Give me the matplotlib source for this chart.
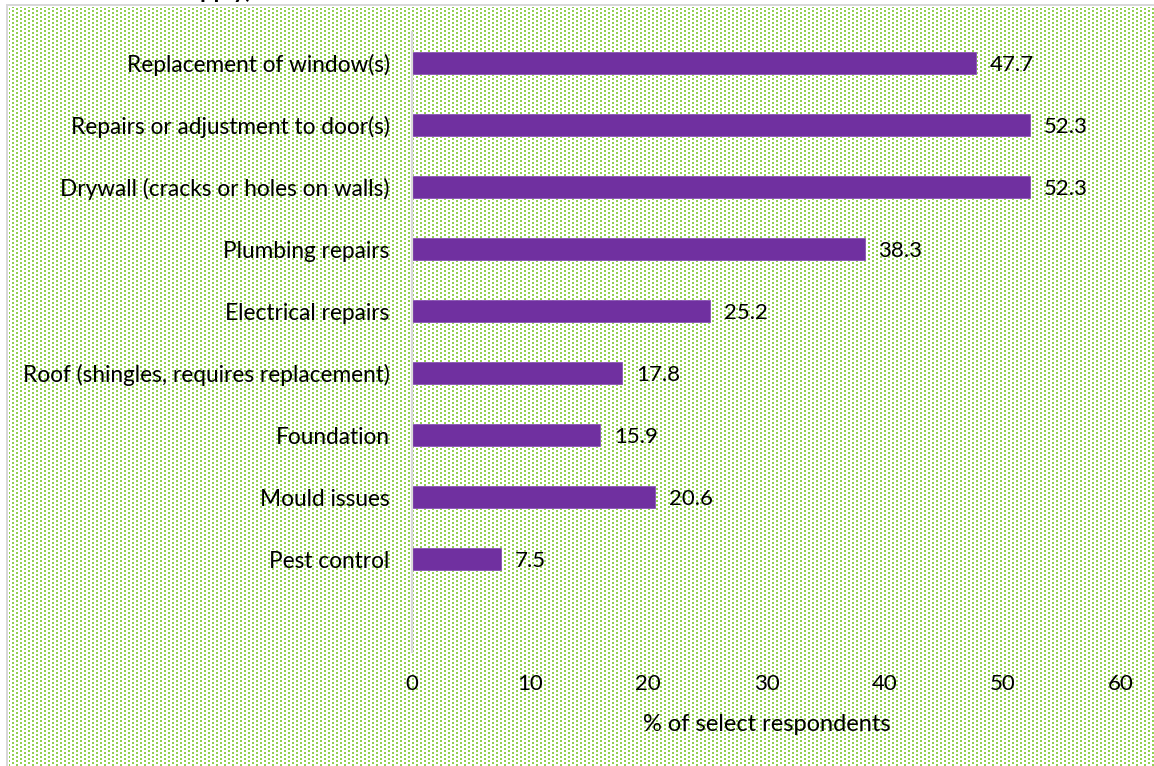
import matplotlib
import numpy as np
from matplotlib import pyplot as plt

matplotlib.use("Agg")

categories = [
    "Replacement of window(s)",
    "Repairs or adjustment to door(s)",
    "Drywall (cracks or holes on walls)",
    "Plumbing repairs",
    "Electrical repairs",
    "Roof (shingles, requires replacement)",
    "Foundation",
    "Mould issues",
    "Pest control",
]
values = [47.7, 52.3, 52.3, 38.3, 25.2, 17.8, 15.9, 20.6, 7.5]
x_ticks = [0, 10, 20, 30, 40, 50, 60]

W, H = 1154, 766
FONT = ["Lato", "DejaVu Sans"]
plt.rcParams["font.family"] = FONT


def _pattern(width: int, height: int) -> np.ndarray:
    # excel style dotted fill on white, light grey chart border top/left
    img = np.ones((height, width, 3))
    green = np.array([0x92, 0xD0, 0x50]) / 255.0
    yy, xx = np.mgrid[0:height, 0:width]
    dots = ((xx % 8 < 2) & (yy % 4 < 2)) | (((xx - 4) % 8 < 2) & ((yy - 2) % 4 < 2))
    dots &= (xx >= 9) & (yy >= 7)
    img[dots] = green
    grey = np.array([0.85, 0.85, 0.85])
    img[5:, 6:8] = grey
    img[4:6, 6:] = grey
    return img


fig = plt.figure(figsize=(W / 100, H / 100), dpi=100)
fig.figimage(_pattern(W, H), 0, 0, zorder=0, origin="upper")

left, right, top, bottom = 412, 1121, 32, 652
ax = fig.add_axes([left / W, 1 - bottom / H, (right - left) / W, (bottom - top) / H])
ax.set_zorder(2)
ax.patch.set_alpha(0)

pos = np.arange(len(categories))
bars = ax.barh(pos, values, height=0.37, color="#7030A0", edgecolor="#8a55b5", linewidth=0.6)
for bar, v in zip(bars, values):
    ax.annotate(f"{v:.1f}", (bar.get_width(), bar.get_y() + bar.get_height() / 2),
                xytext=(10, 0), textcoords="offset points", va="center_baseline", ha="left",
                fontsize=16, color="black")

ax.set_xlim(0, 60)
ax.set_xticks(x_ticks)
ax.set_ylim(len(categories) + 0.5, -0.5)
ax.set_yticks(pos)
ax.set_yticklabels(categories, va="center_baseline")
ax.tick_params(axis="y", length=0, pad=16, labelsize=16.3)
ax.tick_params(axis="x", length=0, pad=16, labelsize=16)
ax.set_xlabel("% of select respondents", fontsize=17, labelpad=14)
for name in ("top", "right", "bottom"):
    ax.spines[name].set_visible(False)
ax.spines["left"].set_color("#d9d9d9")
ax.spines["left"].set_linewidth(1.6)

# title sits above the crop, only the descenders show
fig.text(252 / W, 1 + 2 / H, "apply)", ha="right", va="baseline",
         fontsize=17, fontweight="bold", color="black", zorder=3)

fig.savefig("out.png", dpi=100)
plt.close(fig)
